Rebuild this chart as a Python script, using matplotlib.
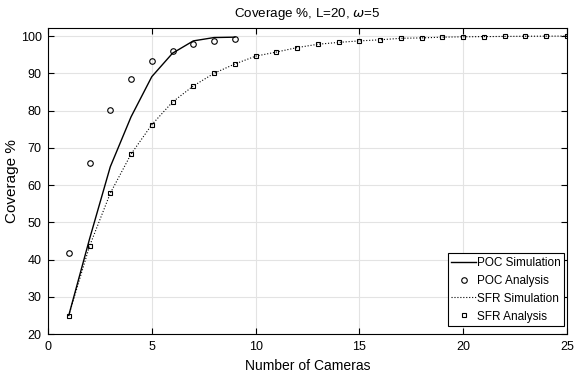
import matplotlib
matplotlib.use('Agg')
import matplotlib.pyplot as plt

plt.rcParams['font.family'] = ['Liberation Sans', 'DejaVu Sans']
plt.rcParams['mathtext.fontset'] = 'dejavusans'

# ========================== DATA ==========================
poc_cameras = [1, 2, 3, 4, 5, 6, 7, 8, 9]
poc_simulation = [25.0, 45.5, 64.9, 78.3, 89.1, 95.4, 98.7, 99.6, 99.7]
poc_analysis = [41.7, 66.0, 80.1, 88.4, 93.3, 96.1, 97.8, 98.7, 99.2]

sfr_cameras = list(range(1, 26))
sfr_simulation = [25.0, 43.6, 57.8, 68.3, 76.2, 82.3, 86.6, 90.0, 92.5, 94.6,
                  95.7, 96.9, 97.8, 98.3, 98.7, 99.0, 99.4, 99.5, 99.7, 99.8,
                  99.85, 99.9, 99.95, 99.97, 100.0]
sfr_analysis = [24.8, 43.6, 57.8, 68.3, 76.2, 82.3, 86.6, 90.0, 92.5, 94.6,
                95.7, 96.9, 97.8, 98.3, 98.7, 99.0, 99.4, 99.5, 99.7, 99.8,
                99.85, 99.9, 99.95, 99.97, 100.0]

x_ticks = [0, 5, 10, 15, 20, 25]
y_ticks = [20, 30, 40, 50, 60, 70, 80, 90, 100]
# ==========================================================

fig = plt.figure(figsize=(5.75, 3.79), dpi=100)
ax = fig.add_axes([0.0835, 0.1187, 0.9025, 0.8073])

ax.plot(poc_cameras, poc_simulation, '-', color='black', linewidth=1.0,
        label='POC Simulation')
ax.plot(poc_cameras, poc_analysis, 'o', color='black', markerfacecolor='none',
        markersize=4, markeredgewidth=0.8, label='POC Analysis')
ax.plot(sfr_cameras, sfr_simulation, ':', color='black', linewidth=0.8,
        label='SFR Simulation')
ax.plot(sfr_cameras, sfr_analysis, 's', color='black', markerfacecolor='none',
        markersize=3.5, markeredgewidth=0.8, label='SFR Analysis')

ax.set_xlim(0, 25)
ax.set_ylim(20, 102.15)
ax.set_xticks(x_ticks)
ax.set_yticks(y_ticks)
ax.tick_params(direction='in', top=True, right=True, labelsize=9, length=4)
ax.tick_params(axis='y', pad=4.5)
ax.tick_params(axis='x', pad=5)
ax.grid(True, color='#e3e3e3', linewidth=0.8)
ax.set_axisbelow(True)
for spine in ax.spines.values():
    spine.set_linewidth(0.8)

ax.set_xlabel('Number of Cameras', fontsize=10)
ax.xaxis.set_label_coords(0.5, -0.083)
ax.set_ylabel('Coverage %', fontsize=11)
ax.yaxis.set_label_coords(-0.056, 0.5)
ax.set_title(r'Coverage %, L=20, $\omega$=5', fontsize=9.6, pad=8)

leg = ax.legend(loc='lower right', bbox_to_anchor=(0.9942, 0.026),
                fontsize=8.5, fancybox=False, framealpha=1,
                edgecolor='black', borderpad=0.3, labelspacing=0.5,
                handlelength=2.1, handletextpad=0.05, borderaxespad=0)
leg.get_frame().set_linewidth(0.8)

fig.savefig('out.png', dpi=100)
